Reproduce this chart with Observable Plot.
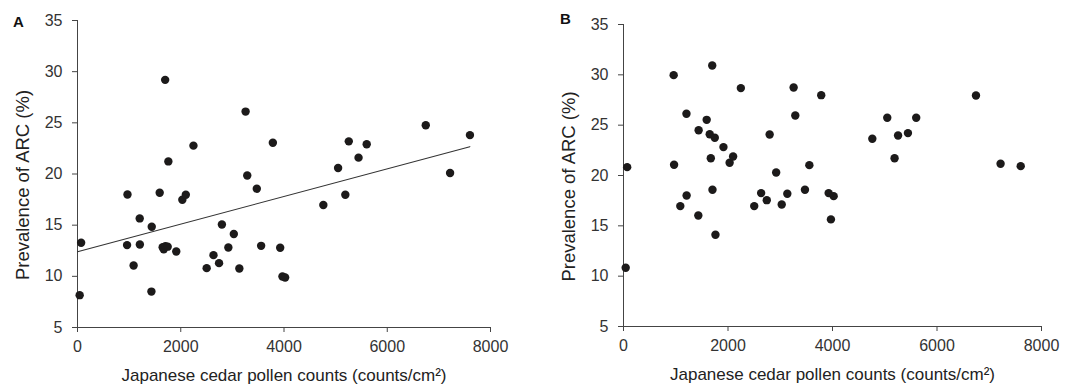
<!DOCTYPE html>
<html>
<head>
<meta charset="utf-8">
<script src="https://cdn.jsdelivr.net/npm/d3@7"></script>
<script src="https://cdn.jsdelivr.net/npm/@observablehq/plot@0.6"></script>
<style>
  html, body { margin: 0; padding: 0; background: #fff; }
  #wrap { display: flex; width: 1075px; height: 387px; position: relative; font-family: "Liberation Sans", Arial, sans-serif; }
  .panel { position: relative; }
  .tag { position: absolute; font-weight: bold; font-size: 15px; color: #111; line-height: 15px; }
</style>
</head>
<body>
<div id="wrap">
  <div class="panel" id="pa"><div class="tag" style="left:13px;top:14px">A</div></div>
  <div class="panel" id="pb"><div class="tag" style="left:20px;top:11px">B</div></div>
</div>
<script>
// Japanese cedar pollen counts (counts/cm²), one per prefecture (shared by both panels)
const pollen = [42, 70, 960, 968, 1087, 1205, 1208, 1432, 1438, 1592, 1650, 1671, 1698, 1703, 1747, 1760,
  1913, 2031, 2098, 2246, 2502, 2634, 2742, 2797, 2922, 3028, 3135, 3256, 3288, 3473, 3557, 3784,
  3926, 3970, 4022, 4762, 5048, 5188, 5255, 5444, 5602, 6746, 7217, 7602];
// Panel A prevalence of ARC (%)
const prevA = [8.16, 13.28, 13.05, 18.0, 11.06, 15.66, 13.11, 8.51, 14.84, 18.17, 12.85, 12.65, 29.2, 12.95, 12.9, 21.23,
  12.43, 17.49, 17.97, 22.77, 10.8, 12.07, 11.29, 15.07, 12.82, 14.13, 10.77, 26.1, 19.86, 18.56, 12.98, 23.06,
  12.79, 9.98, 9.88, 16.97, 20.59, 17.97, 23.19, 21.6, 22.9, 24.76, 20.1, 23.8];
// Panel B prevalence of ARC (%)
const prevB = [10.84, 20.83, 29.97, 21.07, 16.96, 26.13, 18.02, 16.03, 24.5, 25.53, 24.1, 21.72, 30.93, 18.58, 23.75, 14.12,
  22.82, 21.26, 21.89, 28.68, 16.96, 18.25, 17.55, 24.08, 20.3, 17.12, 18.19, 28.74, 25.96, 18.58, 21.03, 27.98,
  18.25, 15.64, 17.95, 23.65, 25.73, 21.72, 23.98, 24.21, 25.73, 27.95, 21.17, 20.93];
// Fitted regression line in panel A (endpoints)
const fitX = [0, 7600];
const fitY = [12.4, 22.67];
// Tick labels
const xTicks = [0, 2000, 4000, 6000, 8000];
const yTicks = [5, 10, 15, 20, 25, 30, 35];
const xTitle = "Japanese cedar pollen counts (counts/cm²)";
const yTitle = "Prevalence of ARC (%)";

const dataA = pollen.map((x, i) => ({x, y: prevA[i]}));
const dataB = pollen.map((x, i) => ({x, y: prevB[i]}));
const fit = fitX.map((x, i) => ({x, y: fitY[i]}));

function panel(data, opts, extra) {
  return Plot.plot({
    width: opts.width,
    height: 387,
    marginLeft: opts.ml,
    marginRight: opts.mr,
    marginTop: opts.mt,
    marginBottom: opts.mb,
    style: {fontFamily: '"Liberation Sans", Arial, sans-serif', fontSize: "16px", color: "#333", background: "white", overflow: "visible"},
    x: {domain: [0, 8000]},
    y: {domain: [5, 35]},
    marks: [
      Plot.axisX({ticks: xTicks, tickSize: 5, tickPadding: 8, tickFormat: d => String(d), label: null, stroke: "#444", fill: "#333"}),
      Plot.axisY({ticks: yTicks, tickSize: 5, tickPadding: 10, tickFormat: d => String(d), label: null, stroke: "#444", fill: "#333"}),
      Plot.ruleY([5], {stroke: "#444"}),
      Plot.ruleX([0], {stroke: "#444"}),
      ...extra,
      Plot.dot(data, {x: "x", y: "y", r: 4.2, fill: "#1c1a1a", stroke: null}),
      Plot.text([xTitle], {frameAnchor: "bottom", lineAnchor: "middle", dy: 48, text: d => d, fontSize: 17, fill: "#222"}),
      Plot.text([yTitle], {frameAnchor: "left", textAnchor: "middle", lineAnchor: "middle", dx: -54, dy: 11, rotate: -90, text: d => d, fontSize: 18.5, fill: "#222"})
    ]
  });
}

document.getElementById("pa").appendChild(panel(dataA, {width: 540, ml: 77, mr: 50, mt: 20, mb: 60},
  [Plot.line(fit, {x: "x", y: "y", stroke: "#333", strokeWidth: 1.1})]));
document.getElementById("pb").appendChild(panel(dataB, {width: 535, ml: 83, mr: 34, mt: 24, mb: 61}, []));
</script>
</body>
</html>
